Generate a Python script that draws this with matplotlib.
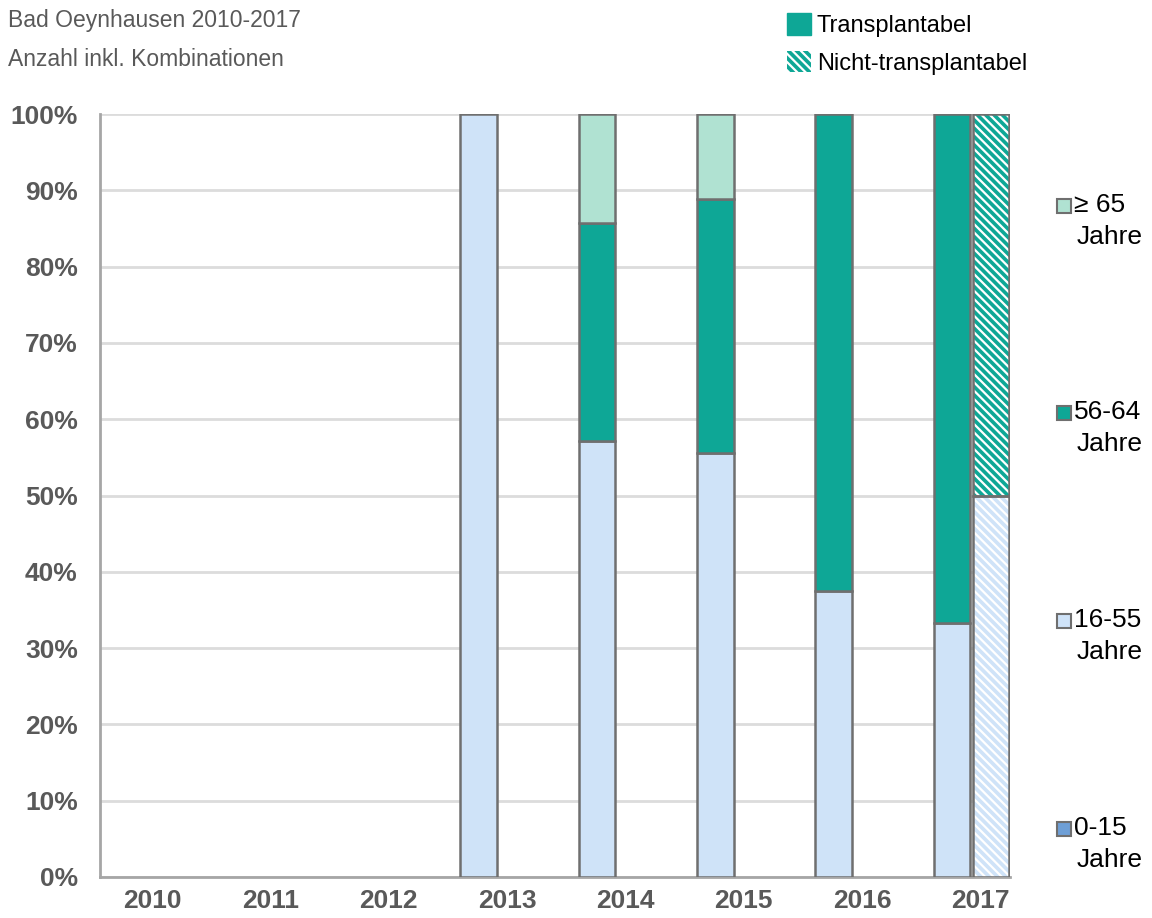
import matplotlib.pyplot as plt
from matplotlib.patches import Patch, Rectangle

plt.rcParams['font.family'] = ['Liberation Sans', 'DejaVu Sans']
plt.rcParams['hatch.linewidth'] = 1.6

years = ["2010", "2011", "2012", "2013", "2014", "2015", "2016", "2017"]
groups = ["0-15\nJahre", "16-55\nJahre", "56-64\nJahre", "\u2265 65\nJahre"]
colors = ["#6e9fd6", "#cfe3f8", "#0ea796", "#b0e2d2"]

# percentages per age group, transplantable patients
trans_0_15 = [0, 0, 0, 0, 0, 0, 0, 0]
trans_16_55 = [0, 0, 0, 100, 57.1, 55.6, 37.5, 33.3]
trans_56_64 = [0, 0, 0, 0, 28.6, 33.3, 62.5, 66.7]
trans_65 = [0, 0, 0, 0, 14.3, 11.1, 0, 0]

# non-transplantable patients (only 2017)
nicht_years = [7]
nicht_0_15 = [0]
nicht_16_55 = [50]
nicht_56_64 = [50]
nicht_65 = [0]

grey_text = "#595959"
edge = "#6f6f6f"

fig = plt.figure(figsize=(11.52, 9.18), dpi=100)
ax = fig.add_axes([100 / 1152, 1 - 877 / 918, 910 / 1152, 763 / 918])

x = list(range(len(years)))
w = 0.31
xa = [i - 0.24 for i in x]
xb = [i + 0.09 for i in nicht_years]

trans = [trans_0_15, trans_16_55, trans_56_64, trans_65]
nicht = [nicht_0_15, nicht_16_55, nicht_56_64, nicht_65]

bottom = [0] * len(x)
for vals, c in zip(trans, colors):
    for i in x:
        if vals[i] > 0:
            ax.bar(xa[i], vals[i], w, bottom=bottom[i], color=c,
                   edgecolor=edge, linewidth=1.8, zorder=3)
    bottom = [b + v for b, v in zip(bottom, vals)]

nb = [0] * len(nicht_years)
for vals, c in zip(nicht, colors):
    for j in range(len(nicht_years)):
        if vals[j] > 0:
            ax.bar(xb[j], vals[j], w, bottom=nb[j], color=c,
                   edgecolor="white", linewidth=0, hatch="\\\\\\\\", zorder=3)
            ax.bar(xb[j], vals[j], w, bottom=nb[j], fill=False,
                   edgecolor=edge, linewidth=1.8, zorder=4)
    nb = [b + v for b, v in zip(nb, vals)]

ax.set_xlim(-0.44, 7.25)
ax.set_ylim(0, 100)
ax.set_yticks(range(0, 101, 10))
ax.set_yticklabels([f"{v}%" for v in range(0, 101, 10)])
ax.set_xticks(x)
ax.set_xticklabels(years)
for lbl in ax.get_xticklabels() + ax.get_yticklabels():
    lbl.set_fontweight("bold")
    lbl.set_color(grey_text)
    lbl.set_fontsize(19)
ax.tick_params(axis="both", length=0)
ax.tick_params(axis="x", pad=9)
ax.tick_params(axis="y", pad=16)
ax.grid(axis="y", color="#dcdcdc", linewidth=2, zorder=0)
ax.set_axisbelow(True)
for s in ["top", "right"]:
    ax.spines[s].set_visible(False)
for s in ["left", "bottom"]:
    ax.spines[s].set_color("#a6a6a6")
    ax.spines[s].set_linewidth(2)

fig.text(8 / 1152, 1 - 21 / 918, "Bad Oeynhausen 2010-2017", fontsize=16.5,
         color=grey_text, va="center")
fig.text(8 / 1152, 1 - 60 / 918, "Anzahl inkl. Kombinationen", fontsize=16.5,
         color=grey_text, va="center")

top_handles = [Patch(facecolor="#0ea796", edgecolor="#0ea796"),
               Patch(facecolor="#0ea796", edgecolor="white", hatch="\\\\\\\\", linewidth=0)]
fig.legend(top_handles, ["Transplantabel", "Nicht-transplantabel"],
           loc="upper left", bbox_to_anchor=(778 / 1152, 1 - 4 / 918),
           frameon=False, fontsize=17, handlelength=1.0, handleheight=1.0,
           handletextpad=0.25, labelspacing=0.6, borderaxespad=0)

# age-group legend on the right
leg_y = [205, 412, 620, 828]
for yy, g, c in zip(leg_y, groups[::-1], colors[::-1]):
    fig.patches.append(Rectangle((1057 / 1152, 1 - (yy + 8) / 918), 14 / 1152, 14 / 918,
                                 transform=fig.transFigure, facecolor=c,
                                 edgecolor=edge, linewidth=1.5))
    first, second = g.split("\n")
    fig.text(1074 / 1152, 1 - yy / 918, first, fontsize=19, color="black",
             va="center", ha="left")
    fig.text(1143 / 1152, 1 - (yy + 32) / 918, second, fontsize=19, color="black",
             va="center", ha="right")

fig.savefig("out.png", dpi=100)
